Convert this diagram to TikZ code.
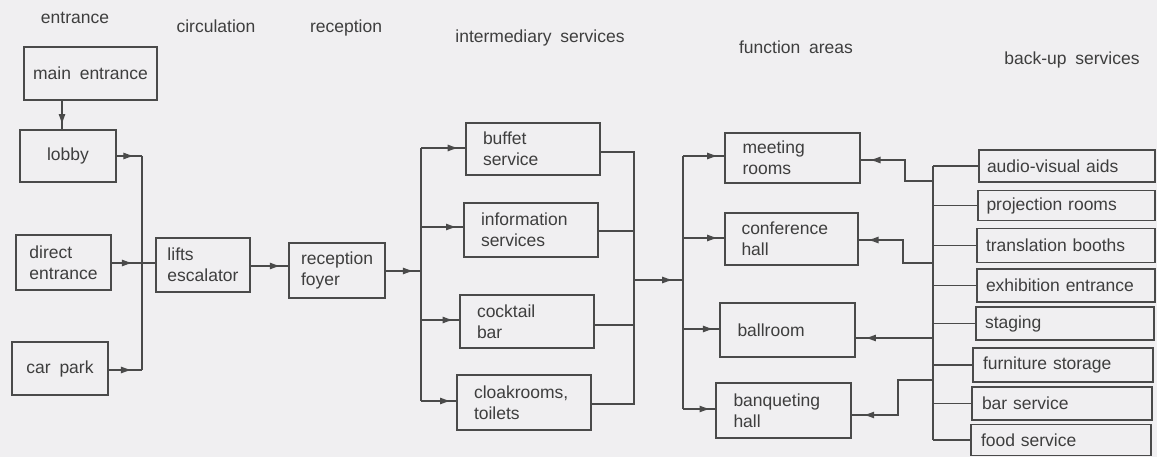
\documentclass[tikz,border=0pt]{standalone}
\usepackage{fontspec}
\setmainfont{Liberation Sans}[WordSpace=1.8]
\usetikzlibrary{arrows.meta,calc}
\definecolor{paper}{HTML}{F0EFF1}
\definecolor{ink}{HTML}{4A4A4A}
\definecolor{txt}{HTML}{3E3E3E}
\begin{document}
\begin{tikzpicture}[x=1pt,y=-1pt,
  every node/.style={font=\fontsize{17.5}{21}\selectfont, text=txt},
  hdr/.style={inner sep=0pt},
  fb/.style 2 args={draw=ink, line width=1.3pt, fill=paper, minimum width=#1, minimum height=#2, align=left, inner sep=0pt},
  wide/.style={text width=100pt},
  bk/.style={text width=160pt},
  lnk/.style={draw=ink, line width=1.2pt},
  tip/.style={lnk, -{Latex[length=11pt,width=7pt]}}
]
\useasboundingbox[fill=paper] (0,0) rectangle (1157,457);

% headers
\node[hdr] (h1) at (75,18) {entrance};
\node[hdr] (h2) at (216,26) {circulation};
\node[hdr] (h3) at (346,28) {reception};
\node[hdr] (h4) at (540,38) {intermediary services};
\node[hdr] (h5) at (796,47) {function areas};
\node[hdr] (h6) at (1072,60) {back-up services};

% entrance
\node[fb={133pt}{53pt}] (main) at (90.5,73.5) {main entrance};
\node[fb={96pt}{52pt}] (lobby) at (68,156) {lobby};
\node[fb={95pt}{55pt}] (direct) at (63.5,262.5) {direct\\entrance};
\node[fb={96pt}{53pt}] (carpark) at (60,368.5) {car park};
% circulation / reception
\node[fb={94pt}{54pt}] (lifts) at (203,265) {lifts\\escalator};
\node[fb={96pt}{55pt}] (foyer) at (337,270.5) {reception\\foyer};
% intermediary
\node[fb={134pt}{52pt}, wide] (buffet) at (533,149) {buffet\\service};
\node[fb={134pt}{54pt}, wide] (info) at (531,230) {information\\services};
\node[fb={134pt}{53pt}, wide] (cocktail) at (527,321.5) {cocktail\\bar};
\node[fb={134pt}{55pt}, wide] (cloak) at (524,402.5) {cloakrooms,\\toilets};
% function areas
\node[fb={135pt}{50pt}, wide] (meeting) at (792.5,158) {meeting\\rooms};
\node[fb={133pt}{52pt}, wide] (conf) at (791.5,239) {conference\\hall};
\node[fb={135pt}{54pt}, wide] (ball) at (787.5,330) {ballroom};
\node[fb={135pt}{55pt}, wide] (banq) at (783.5,410.5) {banqueting\\hall};
% back-up services
\node[fb={176pt}{32pt}, bk] (av) at (1067,166) {audio-visual aids};
\node[fb={177pt}{30pt}, bk] (proj) at (1066.5,205.5) {projection rooms};
\node[fb={178pt}{34pt}, bk] (trans) at (1066,245.5) {translation booths};
\node[fb={178pt}{33pt}, bk] (exhib) at (1066,285.5) {exhibition entrance};
\node[fb={178pt}{33pt}, bk] (stag) at (1065,323.5) {staging};
\node[fb={180pt}{34pt}, bk] (furn) at (1063,365) {furniture storage};
\node[fb={180pt}{33pt}, bk] (bar) at (1062,403.5) {bar service};
\node[fb={180pt}{31pt}, bk] (food) at (1061,440) {food service};

% coordinates for buses
\coordinate (mx) at (62,0);
\coordinate (eT) at (142,156);
\coordinate (eM) at (142,263);
\coordinate (eB) at (142,370);
\coordinate (lf) at (0,266);
\coordinate (iM) at (421,271);
\coordinate (iT) at (421,148);
\coordinate (i2) at (421,227);
\coordinate (i3) at (421,320);
\coordinate (iB) at (421,401);
\coordinate (rT) at (634,152);
\coordinate (r2) at (634,231);
\coordinate (r3) at (634,325);
\coordinate (rB) at (634,404);
\coordinate (rM) at (634,280);
\coordinate (fM) at (683,280);
\coordinate (fT) at (683,156);
\coordinate (f2) at (683,238);
\coordinate (f3) at (683,329);
\coordinate (fB) at (683,409);
\coordinate (bT) at (933,166);
\coordinate (bB) at (933,440);
\coordinate (bm1) at (933,181);
\coordinate (bm2) at (905,181);
\coordinate (bm3) at (905,160);
\coordinate (bc1) at (933,263);
\coordinate (bc2) at (903,263);
\coordinate (bc3) at (903,240);
\coordinate (bb1) at (933,338);
\coordinate (bq1) at (933,380);
\coordinate (bq2) at (898,380);
\coordinate (bq3) at (898,415);

% entrance connectors
\draw[lnk] (main.south -| mx) -- (lobby.north -| mx);
\draw[tip] (main.south -| mx) -- ($(main.south -| mx)!0.85!(lobby.north -| mx)$);
\draw[lnk] (lobby.east |- eT) -- (eT);
\draw[tip] (lobby.east |- eT) -- ($(lobby.east |- eT)!0.7!(eT)$);
\draw[lnk] (direct.east |- eM) -- (eM);
\draw[tip] (direct.east |- eM) -- ($(direct.east |- eM)!0.7!(eM)$);
\draw[lnk] (carpark.east |- eB) -- (eB);
\draw[tip] (carpark.east |- eB) -- ($(carpark.east |- eB)!0.7!(eB)$);
\draw[lnk] (eT) -- (eB);
\draw[lnk] (eM) -- (lifts.west |- eM);
\draw[lnk] (lifts.east |- lf) -- (foyer.west |- lf);
\draw[tip] (lifts.east |- lf) -- ($(lifts.east |- lf)!0.8!(foyer.west |- lf)$);
\draw[lnk] (foyer.east |- iM) -- (iM);
\draw[tip] (foyer.east |- iM) -- ($(foyer.east |- iM)!0.8!(iM)$);

% intermediary
\draw[lnk] (iT) -- (iB);
\draw[lnk] (iT) -- (buffet.west |- iT);
\draw[tip] (iT) -- ($(iT)!0.85!(buffet.west |- iT)$);
\draw[lnk] (i2) -- (info.west |- i2);
\draw[tip] (i2) -- ($(i2)!0.85!(info.west |- i2)$);
\draw[lnk] (i3) -- (cocktail.west |- i3);
\draw[tip] (i3) -- ($(i3)!0.85!(cocktail.west |- i3)$);
\draw[lnk] (iB) -- (cloak.west |- iB);
\draw[tip] (iB) -- ($(iB)!0.85!(cloak.west |- iB)$);
\draw[lnk] (buffet.east |- rT) -- (rT) -- (rB) -- (cloak.east |- rB);
\draw[lnk] (info.east |- r2) -- (r2);
\draw[lnk] (cocktail.east |- r3) -- (r3);
\draw[lnk] (rM) -- (fM);
\draw[tip] (rM) -- ($(rM)!0.8!(fM)$);

% function areas
\draw[lnk] (fT) -- (fB);
\draw[lnk] (fT) -- (meeting.west |- fT);
\draw[tip] (fT) -- ($(fT)!0.85!(meeting.west |- fT)$);
\draw[lnk] (f2) -- (conf.west |- f2);
\draw[tip] (f2) -- ($(f2)!0.85!(conf.west |- f2)$);
\draw[lnk] (f3) -- (ball.west |- f3);
\draw[tip] (f3) -- ($(f3)!0.85!(ball.west |- f3)$);
\draw[lnk] (fB) -- (banq.west |- fB);
\draw[tip] (fB) -- ($(fB)!0.85!(banq.west |- fB)$);

% back-up services
\draw[lnk] (bT) -- (bB);
\draw[lnk] (bT) -- (av.west |- bT);
\draw[lnk] (proj.west -| bT) -- (proj.west);
\draw[lnk] (trans.west -| bT) -- (trans.west);
\draw[lnk] (exhib.west -| bT) -- (exhib.west);
\draw[lnk] (stag.west -| bT) -- (stag.west);
\draw[lnk] (furn.west -| bT) -- (furn.west);
\draw[lnk] (bar.west -| bT) -- (bar.west);
\draw[lnk] (bB) -- (food.west |- bB);

\draw[lnk] (bm1) -- (bm2) -- (bm3) -- (meeting.east |- bm3);
\draw[tip] (bm3) -- ($(bm3)!0.8!(meeting.east |- bm3)$);
\draw[lnk] (bc1) -- (bc2) -- (bc3) -- (conf.east |- bc3);
\draw[tip] (bc3) -- ($(bc3)!0.8!(conf.east |- bc3)$);
\draw[lnk] (bb1) -- (ball.east |- bb1);
\draw[tip] (bb1) -- ($(bb1)!0.88!(ball.east |- bb1)$);
\draw[lnk] (bq1) -- (bq2) -- (bq3) -- (banq.east |- bq3);
\draw[tip] (bq3) -- ($(bq3)!0.75!(banq.east |- bq3)$);
\end{tikzpicture}
\end{document}
